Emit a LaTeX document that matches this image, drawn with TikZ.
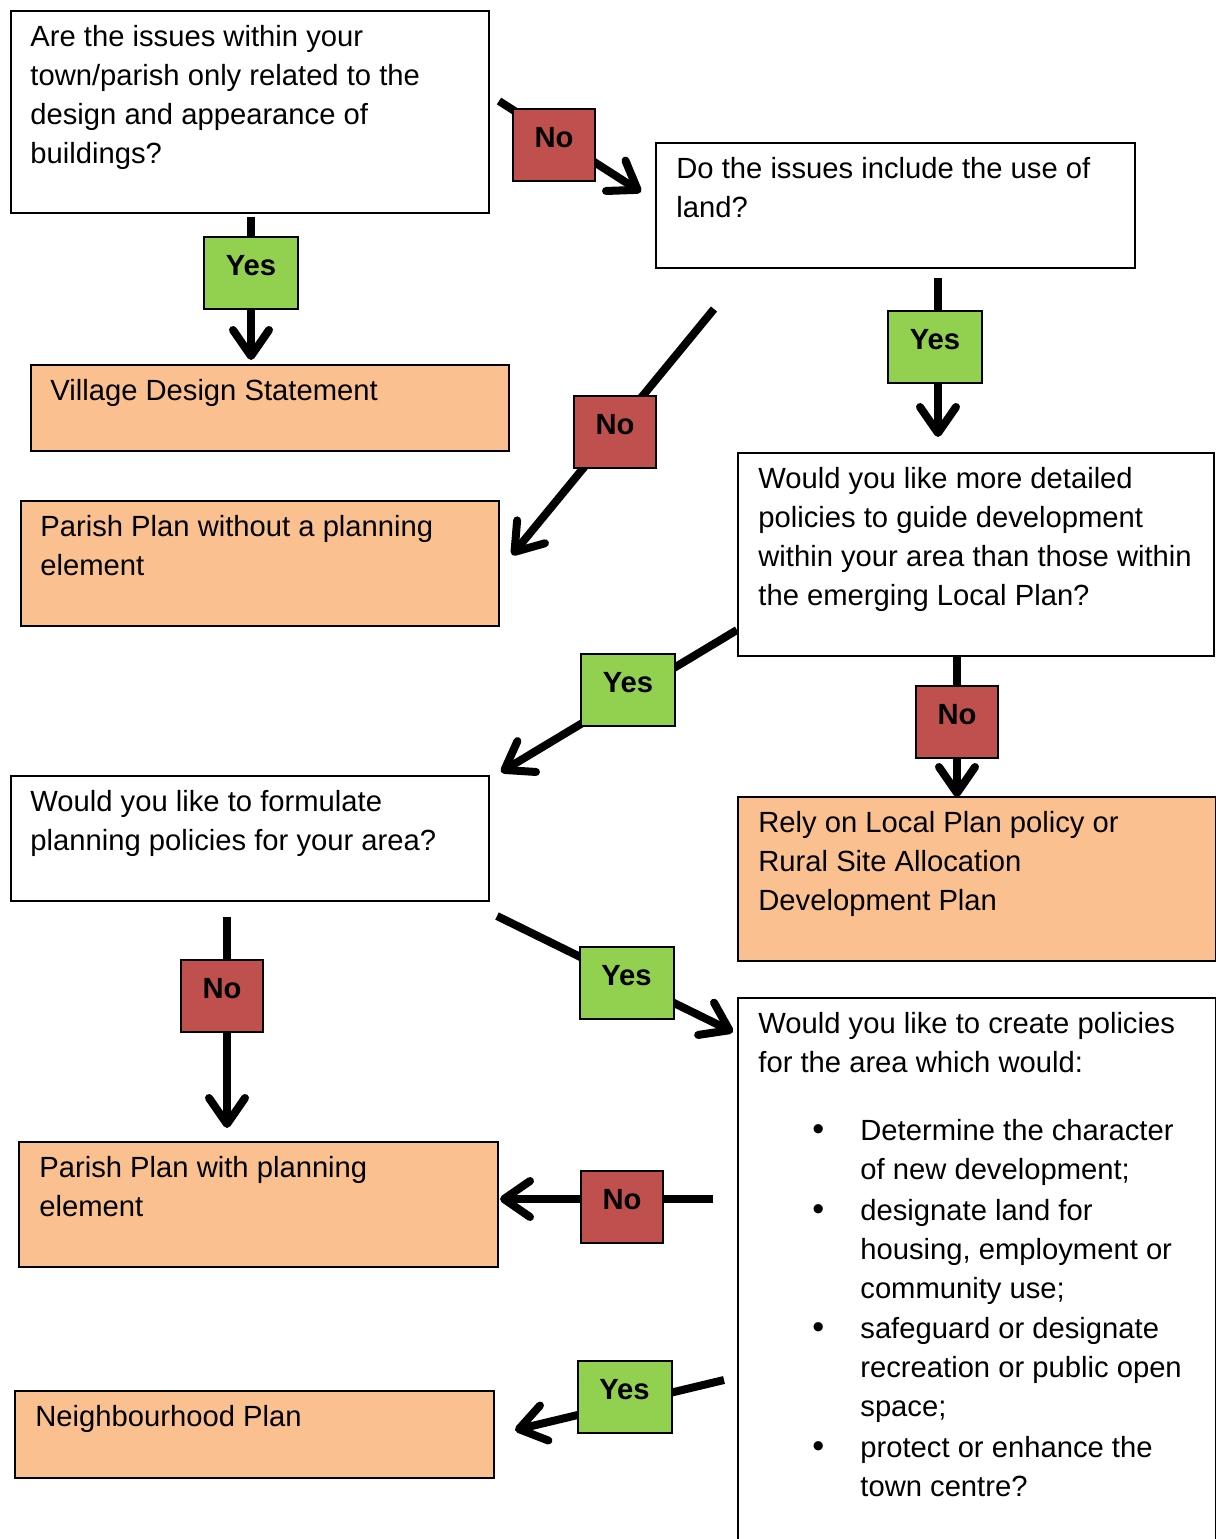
\documentclass[tikz,border=0pt]{standalone}
\usepackage{fontspec}
\setmainfont{Liberation Sans}
\usetikzlibrary{arrows.meta}

\definecolor{answerorange}{RGB}{250,192,143}
\definecolor{nored}{RGB}{192,80,77}
\definecolor{yesgreen}{RGB}{146,208,80}

\newcommand{\bodysize}{\fontsize{14.6pt}{19.5pt}\selectfont}
\newcommand{\boxlines}[1]{\begin{tabular}[t]{@{}l@{}}#1\end{tabular}}

\tikzset{
  qbox/.style={draw, line width=1pt, fill=white, inner sep=0pt, anchor=north west},
  abox/.style={qbox, fill=answerorange},
  btext/.style={anchor=base west, inner sep=0pt},
  tag/.style={draw, line width=1pt, inner xsep=0pt, inner ysep=0pt, text height=19.25pt, text depth=16.75pt, font=\bodysize\bfseries},
  notag/.style={tag, fill=nored, minimum width=41pt},
  yestag/.style={tag, fill=yesgreen, minimum width=47pt},
  flow/.style={line width=4pt, -{Straight Barb[length=13pt, width=18pt, round]}}
}

\begin{document}
\begin{tikzpicture}[x=0.5pt,y=0.5pt,yscale=-1,xscale=1,font=\bodysize]
  \clip (0,0) rectangle (1216,1539);

  %Boxes
  \node[qbox, minimum width=239pt, minimum height=101pt] (issues) at (10,10) {};
  \node[qbox, minimum width=239.5pt, minimum height=62.5pt] (landuse) at (655,142) {};
  \node[abox, minimum width=239pt, minimum height=43pt] (vds) at (30,364) {};
  \node[abox, minimum width=239pt, minimum height=62.5pt] (ppnone) at (20,500) {};
  \node[qbox, minimum width=238pt, minimum height=101.5pt] (detailed) at (737,452) {};
  \node[qbox, minimum width=239pt, minimum height=62.5pt] (formulate) at (10,775) {};
  \node[abox, minimum width=239pt, minimum height=82pt] (localplan) at (737,796) {};
  \node[qbox, minimum width=239pt, minimum height=300pt] (create) at (737,997) {};
  \node[abox, minimum width=239.5pt, minimum height=62.5pt] (ppwith) at (18,1141) {};
  \node[abox, minimum width=239.5pt, minimum height=43.5pt] (nplan) at (14,1390) {};

  % Text Node
  \node[btext] (issuestext) at (30,46) {\boxlines{Are the issues within your\\town/parish only related to the\\design and appearance of\\buildings?}};
  % Text Node
  \node[btext] (landusetext) at (676,178) {\boxlines{Do the issues include the use of\\land?}};
  % Text Node
  \node[btext] (vdstext) at (50,400) {Village Design Statement};
  % Text Node
  \node[btext] (ppnonetext) at (40,536) {\boxlines{Parish Plan without a planning\\element}};
  % Text Node
  \node[btext] (detailedtext) at (758,488) {\boxlines{Would you like more detailed\\policies to guide development\\within your area than those within\\the emerging Local Plan?}};
  % Text Node
  \node[btext] (formulatetext) at (30,811) {\boxlines{Would you like to formulate\\planning policies for your area?}};
  % Text Node
  \node[btext] (localplantext) at (758,832) {\boxlines{Rely on Local Plan policy or\\Rural Site Allocation\\Development Plan}};
  % Text Node
  \node[btext] (createtext) at (758,1033) {\boxlines{Would you like to create policies\\for the area which would:}};
  % Bullet items
  \foreach \y/\txt [count=\i] in {1140/{Determine the character\\of new development;},
      1220/{designate land for\\housing, employment or\\community use;},
      1338/{safeguard or designate\\recreation or public open\\space;},
      1457/{protect or enhance the\\town centre?}} {
    \node[btext] (dot\i) at (812,\y) {\fontsize{17pt}{19.5pt}\selectfont •};
    \node[btext] (item\i) at (860,\y) {\boxlines{\txt}};
  }
  % Text Node
  \node[btext] (ppwithtext) at (39,1177) {\boxlines{Parish Plan with planning\\element}};
  % Text Node
  \node[btext] (nplantext) at (35,1426) {Neighbourhood Plan};

  %Connector ends
  \coordinate (c1s) at (499,101);  \coordinate (c1e) at (641,192);
  \coordinate (c2s) at (251,217);  \coordinate (c2e) at (251,360);
  \coordinate (c3s) at (714,309);  \coordinate (c3e) at (512,555);
  \coordinate (c4s) at (938,278);  \coordinate (c4e) at (938,437);
  \coordinate (c5s) at (737,630);  \coordinate (c5e) at (501,772);
  \coordinate (c6s) at (957,656);  \coordinate (c6e) at (957,797);
  \coordinate (c7s) at (497,916);  \coordinate (c7e) at (733,1032);
  \coordinate (c8s) at (227,917);  \coordinate (c8e) at (227,1128);
  \coordinate (c9s) at (713,1199); \coordinate (c9e) at (500,1199);
  \coordinate (c10s) at (724,1380); \coordinate (c10e) at (515,1430);

  %Connectors
  \foreach \c in {c1,c2,c3,c4,c5,c6,c7,c8,c9,c10}
    \draw[flow] (\c s) -- (\c e);

  %Answer tags
  \node[notag] (no1) at (554,144.5) {No};
  \node[yestag] (yes1) at (251,273) {Yes};
  \node[notag] (no2) at (615,432) {No};
  \node[yestag] (yes2) at (935,347) {Yes};
  \node[yestag] (yes3) at (628,690) {Yes};
  \node[notag] (no3) at (957,722) {No};
  \node[notag] (no4) at (222,996) {No};
  \node[yestag] (yes4) at (626.5,983) {Yes};
  \node[notag] (no5) at (622,1206.5) {No};
  \node[yestag] (yes5) at (624.5,1397) {Yes};
\end{tikzpicture}
\end{document}
